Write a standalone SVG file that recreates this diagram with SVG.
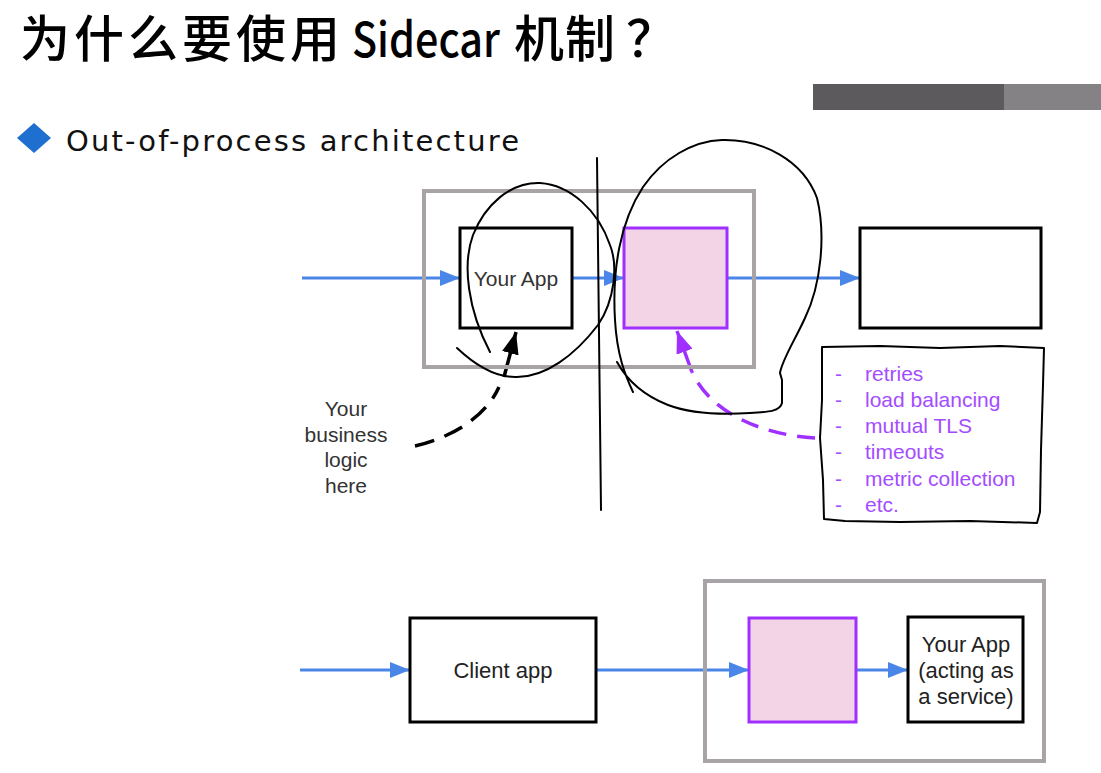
<svg xmlns="http://www.w3.org/2000/svg" width="1101" height="773" viewBox="0 0 1101 773">
<defs>
<style>
.box{fill:#ffffff;stroke:#000000;stroke-width:3}
.side{fill:#f2d4e6;stroke:#a030ff;stroke-width:3}
.pod{fill:none;stroke:#a7a3a7;stroke-width:4}
.flow{fill:none;stroke:#4a86e8;stroke-width:3}
.lbl{font-family:"Liberation Sans",Arial,sans-serif;font-size:21px;fill:#333333;text-anchor:middle}
.lbl2{font-family:"Liberation Sans",Arial,sans-serif;font-size:22px;fill:#222222;text-anchor:middle}
.feat{font-family:"Liberation Sans",Arial,sans-serif;font-size:21px;fill:#a44cff}
.ink{fill:none;stroke:#000000;stroke-width:2;stroke-linecap:round;stroke-linejoin:round}
.ttl{font-family:"Noto Sans CJK SC","Noto Sans",sans-serif;fill:#000000;font-weight:500}
</style>
<marker id="blueHead" markerUnits="userSpaceOnUse" markerWidth="20" markerHeight="16" refX="20" refY="8" orient="auto" viewBox="0 0 20 16"><path d="M0,0 L20,8 L0,16 Z" fill="#4a86e8"/></marker>
<marker id="blackHead" markerUnits="userSpaceOnUse" markerWidth="22" markerHeight="17" refX="22" refY="8.5" orient="auto" viewBox="0 0 22 17"><path d="M0,0 L22,8.5 L0,17 Z" fill="#000000"/></marker>
<marker id="purpleHead" markerUnits="userSpaceOnUse" markerWidth="22" markerHeight="17" refX="22" refY="8.5" orient="auto" viewBox="0 0 22 17"><path d="M0,0 L22,8.5 L0,17 Z" fill="#a030ff"/></marker>
</defs>
<rect width="1101" height="773" fill="#ffffff"/>

<g id="title">
<text class="ttl" x="20" y="57" font-size="50" letter-spacing="4">为什么要使用</text>
<text class="ttl" x="352" y="57" font-size="48" textLength="148" lengthAdjust="spacingAndGlyphs">Sidecar</text>
<text class="ttl" x="514" y="57" font-size="50" letter-spacing="1">机制</text>
<text class="ttl" x="626" y="57" font-size="50">？</text>
</g>

<g id="header-bar">
<rect x="813" y="84" width="191" height="26" fill="#5d5a5d"/>
<rect x="1004" y="84" width="97" height="26" fill="#858285"/>
</g>

<g id="bullet">
<path d="M34,123 L51,138 L34,153 L17,138 Z" fill="#1e6fd0"/>
<text x="66" y="151" font-family="'DejaVu Sans','Noto Sans',sans-serif" font-size="29" fill="#111111" textLength="453" lengthAdjust="spacing">Out-of-process architecture</text>
</g>

<g id="connectors">
<line class="flow" x1="302" y1="278" x2="460" y2="278" marker-end="url(#blueHead)"/>
<line class="flow" x1="572" y1="278" x2="624" y2="278" marker-end="url(#blueHead)"/>
<line class="flow" x1="727" y1="278" x2="860" y2="278" marker-end="url(#blueHead)"/>
<path d="M415,446 C450,438 485,418 499,387" fill="none" stroke="#000000" stroke-width="3.5" stroke-dasharray="20 11"/>
<path d="M504,377 L516,332" fill="none" stroke="#000000" stroke-width="3.5" marker-end="url(#blackHead)"/>
<path d="M815,438 C765,435 712,415 692,372" fill="none" stroke="#a030ff" stroke-width="3.5" stroke-dasharray="18 11"/>
<path d="M692,372 L677,331" fill="none" stroke="#a030ff" stroke-width="3.5" marker-end="url(#purpleHead)"/>
<line class="flow" x1="300" y1="670" x2="410" y2="670" marker-end="url(#blueHead)"/>
<line class="flow" x1="596" y1="670" x2="749" y2="670" marker-end="url(#blueHead)"/>
<line class="flow" x1="856" y1="670" x2="908" y2="670" marker-end="url(#blueHead)"/>
</g>

<g id="pod-top">
<rect class="pod" x="424" y="191" width="330" height="176"/>
</g>
<g id="your-app">
<rect class="box" x="460" y="228" width="112" height="100"/>
<text class="lbl" x="516" y="286">Your App</text>
</g>
<g id="sidecar-top">
<rect class="side" x="624" y="228" width="103" height="100"/>
</g>
<g id="remote-service">
<rect class="box" x="860" y="228" width="181" height="100"/>
</g>
<g id="business-logic-label">
<text class="lbl" x="346" y="416">Your</text>
<text class="lbl" x="346" y="442">business</text>
<text class="lbl" x="346" y="467">logic</text>
<text class="lbl" x="346" y="493">here</text>
</g>

<g id="feature-note">
<path class="ink" d="M822,347 L880,346 L940,348 L1000,346 L1044,348 L1043,385 L1041,450 L1040,512 L1037,523 L970,521 L900,522 L845,521 L824,519 L823,480 L820,438 L822,400 Z"/>
<text class="feat" x="835" y="381">-</text><text class="feat" x="865" y="381">retries</text>
<text class="feat" x="835" y="407">-</text><text class="feat" x="865" y="407">load balancing</text>
<text class="feat" x="835" y="433">-</text><text class="feat" x="865" y="433">mutual TLS</text>
<text class="feat" x="835" y="459">-</text><text class="feat" x="865" y="459">timeouts</text>
<text class="feat" x="835" y="486">-</text><text class="feat" x="865" y="486">metric collection</text>
<text class="feat" x="835" y="512">-</text><text class="feat" x="865" y="512">etc.</text>
</g>

<g id="annotations">
<path class="ink" d="M597,158 L601,510" stroke-width="1.6"/>
<path class="ink" d="M457,348 C475,365 495,377 515,377 C545,378 575,355 598,325 C615,300 618,265 610,245 C598,210 570,185 540,183 C510,182 485,205 473,235 C462,265 468,310 490,352"/>
<path class="ink" d="M633,392 C625,375 617,355 615,320 C612,270 620,222 643,187 C663,158 693,141 722,140 C762,139 803,160 817,198 C826,235 821,285 805,318 C795,340 782,360 780,373 L782,380 L782,403 C780,411 770,412 750,413 C720,415 692,414 668,405 C645,396 628,382 617,362"/>
</g>

<g id="pod-bottom">
<rect class="pod" x="705" y="581" width="339" height="180"/>
</g>
<g id="client-app">
<rect class="box" x="410" y="618" width="186" height="104"/>
<text class="lbl2" x="503" y="678">Client app</text>
</g>
<g id="sidecar-bottom">
<rect class="side" x="749" y="618" width="107" height="104"/>
</g>
<g id="your-app-service">
<rect class="box" x="908" y="617" width="115" height="105"/>
<text class="lbl2" x="966" y="652">Your App</text>
<text class="lbl2" x="966" y="678">(acting as</text>
<text class="lbl2" x="966" y="704">a service)</text>
</g>
</svg>
